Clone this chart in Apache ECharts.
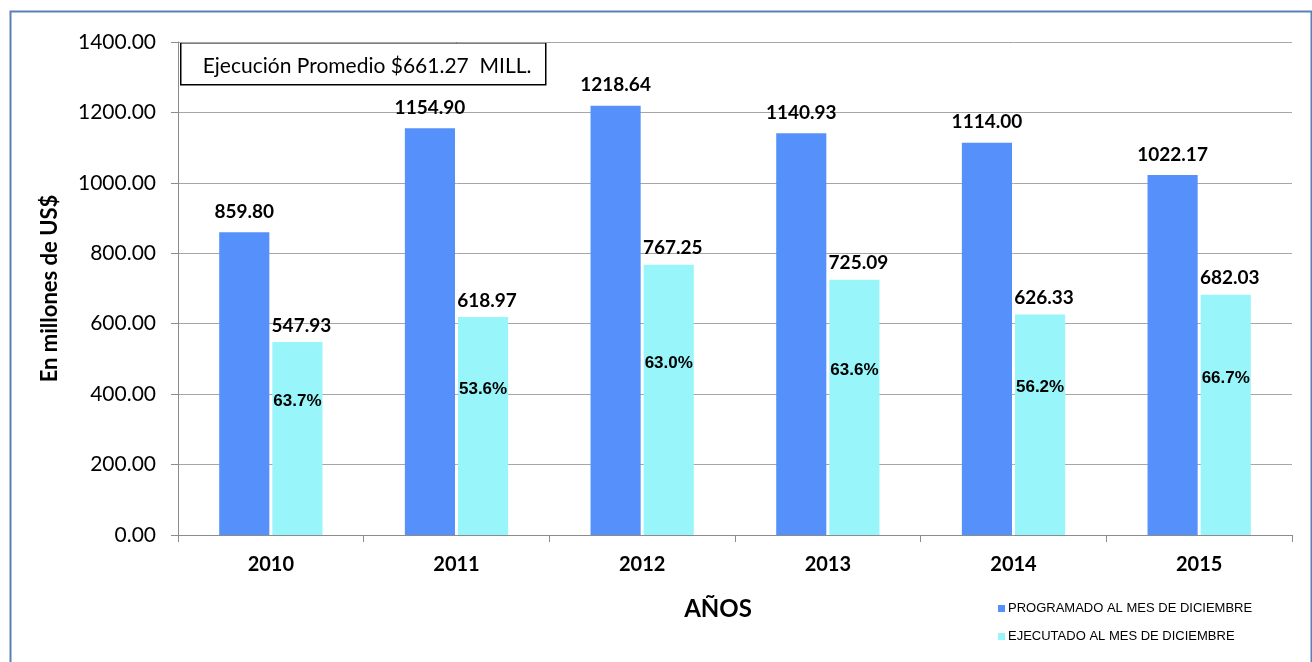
<!DOCTYPE html>
<html>
<head>
<meta charset="utf-8">
<script src="https://cdn.jsdelivr.net/npm/echarts@6/dist/echarts.min.js"></script>
<style>
  html, body { margin: 0; padding: 0; background: #fff; }
  #chart { width: 1312px; height: 662px; }
</style>
</head>
<body>
<div id="chart"></div>
<script>
// datos del grafico
var years = ['2010', '2011', '2012', '2013', '2014', '2015'];
var programado = [859.80, 1154.90, 1218.64, 1140.93, 1114.00, 1022.17];
var ejecutado = [547.93, 618.97, 767.25, 725.09, 626.33, 682.03];
var seriesNames = ['PROGRAMADO AL MES DE DICIEMBRE', 'EJECUTADO AL MES DE DICIEMBRE'];
var nota = 'Ejecución Promedio $661.27  MILL.';

var chart = echarts.init(document.getElementById('chart'));

var valueLabel = function (p) {
	return p.value.toFixed(2);
};

var option = {
	animation: false,
	textStyle: { fontFamily: 'Lato' },
	grid: [
		{ left: 178, top: 42, right: 20, bottom: 127 },
		{ left: 178, top: 42, right: 20, bottom: 127 }
	],
	legend: {
		orient: 'vertical',
		left: 993,
		top: 597,
		itemWidth: 7,
		itemHeight: 7,
		itemGap: 15,
		icon: 'rect',
		data: seriesNames,
		textStyle: { fontFamily: 'Liberation Sans', fontSize: 13, color: '#000', padding: [0, 0, 0, -2] }
	},
	xAxis: [ {
		type: 'category',
		gridIndex: 0,
		data: years,
		name: 'AÑOS',
		nameLocation: 'middle',
		nameGap: 62,
		nameTextStyle: {
			fontFamily: 'Lato', fontWeight: 'bold', fontSize: 24, color: '#000',
			padding: [0, 34, 0, 0]
		},
		axisLine: { lineStyle: { color: '#8c8c8c' } },
		axisTick: { show: true, length: 7, lineStyle: { color: '#8c8c8c' } },
		axisLabel: { fontFamily: 'Lato', fontWeight: 'bold', fontSize: 20, color: '#000', margin: 20 }
	}, {
		type: 'category',
		gridIndex: 1,
		data: years,
		show: false
	} ],
	yAxis: [ {
		type: 'value',
		gridIndex: 0,
		min: 0,
		max: 1400,
		interval: 200,
		name: 'En millones de US$',
		nameLocation: 'middle',
		nameGap: 117,
		nameTextStyle: { fontFamily: 'Lato', fontWeight: 'bold', fontSize: 22, color: '#000' },
		axisLine: { show: true, lineStyle: { color: '#8c8c8c' } },
		axisTick: { show: true, length: 7, lineStyle: { color: '#8c8c8c' } },
		splitLine: { lineStyle: { color: '#a6a6a6', width: 1 } },
		axisLabel: {
			fontFamily: 'Lato', fontSize: 21, color: '#000', margin: 22,
			formatter: function (v) { return v.toFixed(2); }
		}
	}, {
		type: 'value',
		gridIndex: 1,
		min: 0,
		max: 1400,
		interval: 200,
		show: false
	} ],
	series: [ {
		name: seriesNames[0],
		type: 'bar',
		xAxisIndex: 0,
		yAxisIndex: 0,
		data: programado,
		barWidth: '27%',
		barGap: '6%',
		itemStyle: { color: '#5690fb' },
		label: {
			show: true,
			position: 'top',
			distance: 11,
			formatter: valueLabel,
			fontFamily: 'Lato', fontWeight: 'bold', fontSize: 19, color: '#000'
		}
	}, {
		name: seriesNames[1],
		type: 'bar',
		xAxisIndex: 0,
		yAxisIndex: 0,
		data: ejecutado,
		barWidth: '27%',
		barGap: '6%',
		itemStyle: { color: '#98f5f9' },
		label: {
			show: true,
			position: 'top',
			distance: 7,
			offset: [4, 0],
			formatter: valueLabel,
			fontFamily: 'Lato', fontWeight: 'bold', fontSize: 19, color: '#000'
		}
	}, {
		// hueco para alinear la capa de porcentajes
		name: 'dummy',
		type: 'bar',
		xAxisIndex: 1,
		yAxisIndex: 1,
		data: [],
		barWidth: '27%',
		barGap: '6%',
		silent: true
	}, {
		name: 'pct',
		type: 'bar',
		xAxisIndex: 1,
		yAxisIndex: 1,
		data: ejecutado,
		barWidth: '27%',
		barGap: '6%',
		silent: true,
		itemStyle: { color: 'rgba(0,0,0,0)' },
		label: {
			show: true,
			position: 'inside',
			offset: [0, -37],
			formatter: function (p) {
				return (ejecutado[p.dataIndex] / programado[p.dataIndex] * 100).toFixed(1) + '%';
			},
			fontFamily: 'Liberation Sans', fontWeight: 'bold', fontSize: 17, color: '#000'
		}
	} ],
	graphic: [ {
		type: 'rect',
		left: 8,
		top: 9,
		shape: { width: 1301, height: 660 },
		style: { fill: null, stroke: '#5b80b8', lineWidth: 2 },
		silent: true
	}, {
		type: 'group',
		left: 180,
		top: 42,
		children: [ {
			type: 'rect',
			shape: { width: 365, height: 42 },
			style: { fill: '#fff', stroke: '#000', lineWidth: 1.5 }
		}, {
			type: 'text',
			left: 22,
			top: 13,
			style: { text: nota, fontFamily: 'Lato', fontSize: 21, fill: '#000' }
		} ]
	} ]
};

chart.setOption(option);
</script>
</body>
</html>
